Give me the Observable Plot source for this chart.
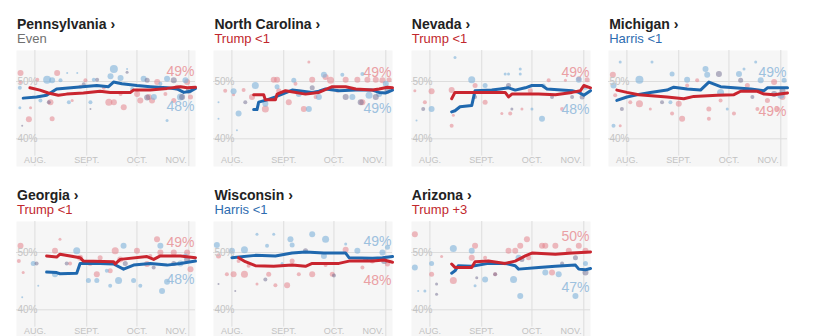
<!DOCTYPE html>
<html><head><meta charset="utf-8">
<script src="https://cdn.jsdelivr.net/npm/d3@7"></script>
<script src="https://cdn.jsdelivr.net/npm/@observablehq/plot@0.6"></script>
<style>
body{margin:0;background:#fff;font-family:"Liberation Sans",Arial,sans-serif;}
#root{position:relative;width:813px;height:336px;overflow:hidden;}
.panel{position:absolute;width:179px;height:171px;}
.title{position:absolute;left:1px;top:17px;font-size:14px;line-height:14px;font-weight:bold;color:#222;white-space:nowrap;}
.sub{position:absolute;left:1px;top:32px;font-size:13px;line-height:13px;white-space:nowrap;}
.chart{position:absolute;left:0;top:50px;}
</style></head><body><div id="root"></div>
<script>
// x values are days since July 21, 2024 (0 = Jul 21, 107 = Nov 5)
const monthTicks = [11, 42, 72, 103];
const monthLabels = ["AUG.", "SEPT.", "OCT.", "NOV."];
const pctTicks = [50, 40];

const states = ["Pennsylvania", "North Carolina", "Nevada", "Michigan", "Georgia", "Wisconsin", "Arizona"];
const margins = ["Even", "Trump <1", "Trump <1", "Harris <1", "Trump <1", "Harris <1", "Trump +3"];
const marginParty = ["even", "trump", "trump", "harris", "trump", "harris", "trump"];
const topLabels = ["49%", "49%", "49%", "49%", "49%", "49%", "50%"];
const topParty = ["trump", "trump", "trump", "harris", "trump", "harris", "trump"];
const bottomLabels = ["48%", "49%", "48%", "49%", "48%", "48%", "47%"];

// polling averages [day, pct]
const paHarris = [[4,47.1],[12,47.3],[18,47.6],[24,48.7],[36,49.0],[48,49.3],[55,49.1],[58,49.9],[63,49.6],[72,49.3],[80,49.1],[90,48.9],[96,48.7],[100,48.1],[104,48.3],[107,48.8]];
const paTrump = [[8,48.9],[14,48.5],[19,48.0],[25,47.6],[30,47.8],[40,48.0],[50,48.3],[56,48.1],[68,48.1],[70,48.5],[80,48.5],[90,48.8],[98,49.1],[102,48.9],[107,49.0]];
const ncHarris = [[24,45.1],[26,45.1],[27,46.4],[32,46.8],[37,47.3],[47,48.5],[51,48.4],[59,48.1],[63,48.3],[67,48.7],[75,48.4],[85,48.5],[95,48.5],[99,48.1],[103,48.0],[107,48.5]];
const ncTrump = [[24,47.7],[30,47.7],[31,46.8],[37,46.8],[38,47.8],[43,48.4],[55,47.8],[63,48.1],[71,49.1],[79,49.1],[85,48.7],[95,48.5],[99,48.7],[104,49.0],[107,48.9]];
const nvHarris = [[24,44.7],[26,44.9],[29,45.6],[36,45.8],[38,48.4],[48,48.5],[53,48.7],[58,48.9],[62,48.5],[68,48.9],[72,49.3],[78,49.3],[81,48.7],[96,48.4],[100,48.1],[103,47.6],[107,48.4]];
const nvTrump = [[24,47.0],[26,48.1],[56,48.1],[58,47.3],[60,47.8],[76,47.8],[86,47.7],[96,48.1],[101,48.4],[103,49.3],[107,48.9]];
const miHarris = [[5,46.7],[11,47.3],[19,47.8],[25,48.1],[35,48.5],[39,49.0],[47,48.7],[55,48.5],[60,49.9],[67,49.1],[75,48.9],[85,48.7],[93,48.4],[95,48.9],[107,48.9]];
const miTrump = [[5,48.5],[11,48.1],[18,47.7],[35,47.3],[45,47.0],[51,47.4],[65,47.6],[75,47.7],[79,48.3],[89,48.3],[93,47.8],[99,47.7],[107,48.0]];
const gaHarris = [[18,46.6],[24,46.5],[26,46.3],[36,46.4],[38,48.1],[50,48.1],[58,48.0],[64,47.1],[70,47.8],[80,48.1],[90,47.8],[98,48.1],[107,48.5]];
const gaTrump = [[18,49.4],[24,49.2],[26,49.7],[38,49.1],[40,48.5],[58,48.4],[59,48.0],[62,48.8],[78,49.3],[82,48.8],[86,49.4],[98,49.4],[107,49.1]];
const wiHarris = [[11,49.1],[25,49.5],[37,49.4],[47,49.9],[55,50.1],[66,49.9],[79,49.9],[81,49.1],[95,49.0],[101,49.1],[107,49.3]];
const wiTrump = [[15,49.1],[19,48.4],[25,47.7],[36,47.6],[47,47.8],[55,47.6],[59,48.1],[75,48.1],[81,48.5],[95,48.5],[102,48.7],[107,48.3]];
const azHarris = [[24,46.4],[26,46.8],[28,47.7],[36,47.6],[46,48.1],[56,48.1],[62,47.7],[64,47.1],[76,47.4],[86,47.6],[98,47.8],[100,47.1],[104,47.0],[107,47.2]];
const azTrump = [[24,48.0],[26,47.4],[36,47.4],[38,48.4],[46,48.5],[56,48.1],[62,48.5],[68,49.4],[72,49.9],[86,49.7],[96,49.9],[107,50.1]];

// individual polls [day, pct, size]
const paTrumpPolls = [[2.4,51.5,3],[2.4,49.9,2],[7.4,43.4,3],[8.4,45.4,1.5],[24.3,51.5,3],[20.3,46.4,3],[21.3,43.5,2.5],[12.4,50.3,2],[33.3,46.7,1.5],[38.2,49.1,2],[41.2,50.2,2],[52.2,48.9,2],[55.2,46.4,3.5],[58.2,46.4,3],[64.1,45.5,3],[62.2,47.8,2],[72.1,47.8,3],[79.1,47.3,3],[84.1,49.9,3],[89,47.8,2],[96,48.9,3],[102,49.9,3],[104,47.3,2.5],[94,46.7,2.5],[74,46.7,3],[81,46.7,3]];
const paHarrisPolls = [[2,48.9,2],[2,45.4,1.5],[18.3,50.3,4],[21.3,50.2,3],[26.3,50.2,2],[30.3,51.5,1],[36.3,51.5,1],[14.3,46.7,2],[31.3,46.4,2],[44.2,46.4,2],[46.2,50.3,2],[58.2,52.2,4],[56.2,50.9,3],[62.2,50.6,3],[66.1,52.2,1],[69.1,48.7,2],[82.1,47.3,3],[86,49.6,2],[90,43.2,1.5],[98,47.3,3.5],[101,50.2,3],[105,48.7,2],[76,50.5,3],[90,50.5,3]];
const paMixedPolls = [[3.4,42.3,1],[19.3,46.4,2],[40.2,49.5,2],[44.2,45.2,1],[48.2,50.3,2],[66.1,51.6,1.5],[78.1,50.2,2.5],[78.1,47.2,3],[94,50.2,3],[99,47.3,3],[103,48.4,3]];

const ncTrumpPolls = [[7,48.4,2],[12,47.7,1.5],[18,48.5,2],[23,47.3,3],[31,45.2,3.5],[36,50.3,3],[38,50.3,3],[39,48.4,2.5],[45,46.4,3],[49,49.6,2],[54,45.2,3],[57,53.4,1.5],[59,50.3,3],[67,50.8,3],[70,50.2,3.5],[74,48.4,2],[79,50.3,3],[86,50.3,3],[92,50.3,3],[97,50.3,3],[101,50.2,3],[105,50.3,2.5],[89,46.4,3],[61,47.3,2]];
const ncHarrisPolls = [[12,48.3,3],[15,44.4,3],[25,49.3,3.5],[31,46.1,3],[38,49.1,2.5],[48,50.2,2.5],[51,47.8,3],[57,45.2,3],[63,47.3,3],[66,51.2,3],[77,51.2,2],[83,47.3,3],[89,51.3,2],[93,47.6,3.5],[99,47.8,3],[103,49.6,3],[14,41.5,1],[3,43.5,1],[3,46.4,1]];
const ncMixedPolls = [[19,46.4,2],[59,48.9,2.5],[79,47.3,3],[88,46.4,3],[97,47.3,3],[104,48.4,3],[71,48.9,2]];

const nvTrumpPolls = [[12,48.3,3],[8,46.4,2],[24,48.5,3],[24,42.3,2],[25,44.1,1.5],[38,49.3,2.5],[44,46.4,2.5],[54,44.4,1.5],[59,44.4,2],[66,45.2,1.5],[71,48.4,2.5],[82,50.2,2],[90,45.2,2],[100,50.5,2.5],[105,50.3,2.5],[92,50.2,1.5],[2,48.4,1.5]];
const nvHarrisPolls = [[12,45.2,3],[26,54.2,1.5],[36,50.3,3.5],[44,49.3,2.5],[56,51.3,1.5],[58,51.3,1.5],[65,52.2,1.5],[65,51.3,1.5],[78,43.5,3],[79,49.3,2],[100,50.3,3],[104,49.0,2.5],[72,45.2,1.5],[3,43.2,1]];
const nvMixedPolls = [[7,45.2,2],[38,47.3,2],[58,49.3,2.5],[60,45.2,1.5],[84,47.3,2],[96,47.3,2],[102,47.3,2.5]];

const miTrumpPolls = [[2.6,51.2,3],[4,47.6,2],[7,42.3,1.5],[13,46.4,2],[18.5,46.1,3.5],[25,45.2,1.5],[38,44.4,2],[42,46.1,3],[44,43.5,3],[47,49.3,2],[60,45.2,2.5],[60,43.5,2],[67,46.7,2],[75,44.4,2],[83,49.3,2.5],[89,45.2,2],[95,46.7,2.5],[99,49.9,3],[101,45.2,2.5],[104,47.3,3],[53,50.2,2]];
const miHarrisPolls = [[3,49.3,3],[7,53.4,1.5],[3,42.3,2],[18.5,50.3,4],[26,53.4,1.5],[38,51.3,2.5],[47,50.3,3],[58,52.2,3],[59,51.2,3],[67,48.1,3.5],[71,45.2,1.5],[78,51.3,3],[81,52.2,1.5],[88,53.4,1.5],[91,50.2,3],[103,47.6,3.5],[105,50.2,2.5],[37,46.4,2]];
const miMixedPolls = [[8,45.2,2],[32,46.4,2],[66,51.3,3],[79,50.2,2.5],[86,47.3,2],[99,47.8,3],[104,48.4,3]];

const gaTrumpPolls = [[2.4,51.2,3],[1.4,48.5,2],[26,52.3,1.5],[23,50.3,3],[32,48.1,2],[38,49.1,3],[44,48.1,2.5],[48,46.2,3],[50,49.1,2.5],[56,46.8,2.5],[59,50.3,3.5],[62,48.8,3],[72,50.3,3],[78,48.0,3],[84,52.3,3],[86,50.0,3],[94,50.0,3],[102,50.0,3],[104,47.1,3],[4,46.5,1.5],[80,49.4,2]];
const gaHarrisPolls = [[10,48.1,2.5],[23,46.2,3],[36,50.3,3.5],[43,45.1,2.5],[48,45.1,2.5],[54,46.8,2],[56,44.2,2],[61,45.1,3.5],[64,51.2,3],[70,45.1,2.5],[74,44.2,2],[86,51.2,3],[87,43.3,3],[90,44.9,3],[98,48.1,3],[101,49.4,2.5],[13,44.2,1],[3.4,42.2,1]];
const gaMixedPolls = [[12,48.1,2],[30,48.1,2],[65,48.1,2.5],[82,47.4,2],[94,48.1,2.5],[102,48.8,3]];

const wiTrumpPolls = [[3,49.4,2.5],[8,46.2,2],[12,46.2,3],[18.5,46.2,3.5],[21,47.7,2],[26,44.5,1.5],[33,46.2,2.5],[37,44.3,2],[44,44.3,3],[47,48.5,2.5],[51,46.2,2],[59,46.2,3],[67,47.8,2],[71,46.2,2.5],[79,50.5,3],[89,47.4,2],[95,48.5,2.5],[104,48.0,2.5],[15,48.5,2]];
const wiHarrisPolls = [[2,51.3,3],[11,50.3,3],[18.5,50.5,3.5],[26,53.2,1.5],[32,51.2,2],[36,53.2,1.5],[46,52.3,3],[47,51.3,2.5],[59,53.2,3],[67,52.3,3.5],[66,49.4,3],[79,51.5,1.5],[86,50.3,3],[93,48.8,2.5],[101,50.0,3],[104,50.9,2.5],[41,48.1,1.5]];
const wiMixedPolls = [[3,44.5,1],[13,43.3,1],[31,45.3,2],[55,50.3,2.5],[72,46.0,2],[91,48.8,2.5],[102,48.5,3]];

const azTrumpPolls = [[2,53.2,3],[12,46.2,2.5],[18,49.3,1.5],[25,45.1,3.5],[36,49.1,3],[38,51.2,3],[44,49.1,2],[58,50.3,3],[62,50.3,3],[65,51.2,3],[69,52.3,3],[70,49.1,2.5],[78,51.2,3],[80,51.2,3],[86,51.2,3],[94,50.3,3],[100,51.2,3],[104,50.3,3],[50,46.2,2],[84,46.5,3]];
const azHarrisPolls = [[2,47.4,3],[12,48.1,2.5],[25,50.7,3.5],[36,50.3,3],[44,45.3,3],[56,48.1,2],[61,45.3,3.5],[65,42.4,3],[64,49.1,3],[80,46.5,3],[88,46.2,3],[98,42.4,3],[104,48.1,2.5],[4,43.3,1],[8,43.3,1.5],[38,44.2,1.5]];
const azMixedPolls = [[15,44.5,1.5],[15,42.7,1.5],[39,45.6,1.5],[50,46.2,2],[66,48.8,2.5],[90,48.1,2],[98,49.1,2.5],[104,46.5,3]];

const harrisAvgs = [paHarris, ncHarris, nvHarris, miHarris, gaHarris, wiHarris, azHarris];
const trumpAvgs = [paTrump, ncTrump, nvTrump, miTrump, gaTrump, wiTrump, azTrump];
const trumpPolls = [paTrumpPolls, ncTrumpPolls, nvTrumpPolls, miTrumpPolls, gaTrumpPolls, wiTrumpPolls, azTrumpPolls];
const harrisPolls = [paHarrisPolls, ncHarrisPolls, nvHarrisPolls, miHarrisPolls, gaHarrisPolls, wiHarrisPolls, azHarrisPolls];
const mixedPolls = [paMixedPolls, ncMixedPolls, nvMixedPolls, miMixedPolls, gaMixedPolls, wiMixedPolls, azMixedPolls];

const colors = {
  trumpLine: "#c9252f", harrisLine: "#1f68ae",
  trumpDot: "#e3848d", harrisDot: "#7fb3da", mixedDot: "#6d6a8e",
  trumpLabel: "#eaa0a4", harrisLabel: "#9dc1de",
  trumpText: "#c1272d", harrisText: "#2d6cb0", evenText: "#707070"
};

const root = document.getElementById("root");
const X = d => d[0], Y = d => d[1], R = d => d[2];

states.forEach((name, i) => {
  const col = i % 4, row = Math.floor(i / 4);
  const panel = document.createElement("div");
  panel.className = "panel";
  panel.style.left = (16 + col * 197.4) + "px";
  panel.style.top = (row * 171) + "px";
  const t = document.createElement("div");
  t.className = "title";
  t.textContent = name + " \u203A";
  const s = document.createElement("div");
  s.className = "sub";
  s.textContent = margins[i];
  s.style.color = marginParty[i] === "trump" ? colors.trumpText : marginParty[i] === "harris" ? colors.harrisText : colors.evenText;
  panel.appendChild(t); panel.appendChild(s);

  const h = harrisAvgs[i], tr = trumpAvgs[i];
  const hEnd = h[h.length - 1], tEnd = tr[tr.length - 1];
  const topIsTrump = topParty[i] === "trump";
  const upper = {x: Math.max(hEnd[0], tEnd[0]), y: Math.max(hEnd[1], tEnd[1]), text: topLabels[i], party: topParty[i]};
  const lower = {x: Math.max(hEnd[0], tEnd[0]), y: Math.min(hEnd[1], tEnd[1]), text: bottomLabels[i], party: topIsTrump ? "harris" : "trump"};

  const svg = Plot.plot({
    width: 179, height: 116, margin: 0,
    x: {domain: [0, 107], axis: null},
    y: {domain: [35.17, 55.41], axis: null},
    r: {type: "identity"},
    style: {fontFamily: "'Liberation Sans', Arial, sans-serif", background: "transparent", overflow: "visible"},
    marks: [
      Plot.frame({fill: "#f6f6f6", stroke: "none"}),
      Plot.ruleX(monthTicks, {x: d => d, stroke: "#dddddd", strokeWidth: 1}),
      Plot.ruleY(pctTicks, {y: d => d, stroke: "#dddddd", strokeWidth: 1}),
      Plot.text(monthTicks.slice(0, 3), {x: d => d, text: (d, j) => monthLabels[j], frameAnchor: "bottom", dy: -6, lineAnchor: "middle", fill: "#c2c2c2", fontSize: 9, stroke: "#f6f6f6", strokeWidth: 3}),
      Plot.text(monthTicks.slice(3), {x: d => d, text: d => monthLabels[3], frameAnchor: "bottom", dy: -6, dx: -2, lineAnchor: "middle", textAnchor: "end", fill: "#c2c2c2", fontSize: 9, stroke: "#f6f6f6", strokeWidth: 3}),
      Plot.dot(trumpPolls[i], {x: X, y: Y, r: R, fill: colors.trumpDot, fillOpacity: 0.55}),
      Plot.dot(harrisPolls[i], {x: X, y: Y, r: R, fill: colors.harrisDot, fillOpacity: 0.6}),
      Plot.dot(mixedPolls[i], {x: X, y: Y, r: R, fill: colors.mixedDot, fillOpacity: 0.5}),
      Plot.text(pctTicks, {x: 0, y: d => d, text: d => d + "%", textAnchor: "start", dx: 1, fill: "#c4c4c4", fontSize: 10}),
      Plot.line(h, {x: X, y: Y, stroke: colors.harrisLine, strokeWidth: 3, strokeLinejoin: "round", strokeLinecap: "round"}),
      Plot.line(tr, {x: X, y: Y, stroke: colors.trumpLine, strokeWidth: 3, strokeLinejoin: "round", strokeLinecap: "round"}),
      Plot.text([upper], {x: "x", y: "y", text: "text", dy: -15.5, dx: -1, textAnchor: "end", lineAnchor: "middle", fontSize: 14, fill: upper.party === "trump" ? colors.trumpLabel : colors.harrisLabel}),
      Plot.text([lower], {x: "x", y: "y", text: "text", dy: 18.5, dx: -1, textAnchor: "end", lineAnchor: "middle", fontSize: 14, fill: lower.party === "trump" ? colors.trumpLabel : colors.harrisLabel})
    ]
  });
  svg.classList.add("chart");
  svg.style.position = "absolute";
  svg.style.left = "0px";
  svg.style.top = "50px";
  panel.appendChild(svg);
  root.appendChild(panel);
});
</script></body></html>
